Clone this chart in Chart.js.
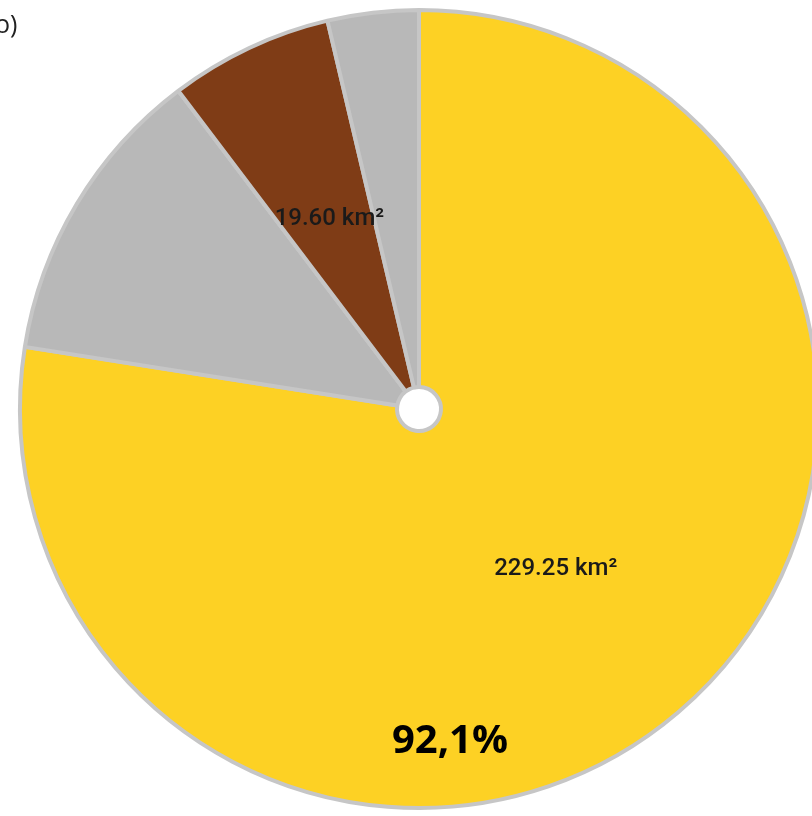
<!DOCTYPE html>
<html>
<head>
<meta charset="utf-8">
<script src="https://cdn.jsdelivr.net/npm/chart.js@4"></script>
<style>
    html, body { margin: 0; padding: 0; background: #ffffff; overflow: hidden; }
    #wrap { position: absolute; left: 0; top: 0; width: 838px; height: 818px; }
    #corner { position: absolute; left: -5px; top: 6px; font: 25px "Open Sans", sans-serif; color: #222; }
    #pct { position: absolute; left: 350px; top: 710px; width: 200px; text-align: center; font: bold 40px "Open Sans", sans-serif; color: #000; }
</style>
</head>
<body>
<div id="wrap"><canvas id="pieCanvas"></canvas></div>
<div id="corner">o)</div>
<div id="pct">92,1%</div>
<script>
// slice values in km² (yellow, gray, brown, small gray)
var areaLabels = ['Area A', 'Area B', 'Area C', 'Area D'];
var areaValues = [229.25, 36.1, 19.60, 10.9];
var areaText = ['229.25 km²', '', '19.60 km²', ''];
var areaColors = ['#fdd124', '#b8b8b8', '#7f3c16', '#b8b8b8'];

// draws the km² text at the middle of each slice
var sliceText = {
    id: 'sliceText',
    afterDatasetsDraw: function (chart) {
        var ctx = chart.ctx;
        var meta = chart.getDatasetMeta(0);
        ctx.save();
        ctx.font = '500 24px Roboto';
        ctx.fillStyle = '#1a1a1a';
        ctx.textAlign = 'center';
        ctx.textBaseline = 'middle';
        meta.data.forEach(function (arc, i) {
            if (!areaText[i]) return;
            var p = arc.tooltipPosition();
            ctx.fillText(areaText[i], p.x, p.y);
        });
        ctx.restore();
    }
};

var pie_chart = new Chart(document.getElementById('pieCanvas'), {
    type: 'doughnut',
    data: {
        labels: areaLabels,
        datasets: [{
            data: areaValues,
            backgroundColor: areaColors,
            borderColor: '#c6c6c6',
            borderWidth: 4,
        }]
    },
    options: {
        responsive: true,
        maintainAspectRatio: false,
        animation: false,
        cutout: 22,
        layout: { padding: { top: 8, bottom: 8, left: 0, right: 0 } },
        plugins: {
            legend: { display: false },
            tooltip: { enabled: false }
        }
    },
    plugins: [sliceText]
});
</script>
</body>
</html>
